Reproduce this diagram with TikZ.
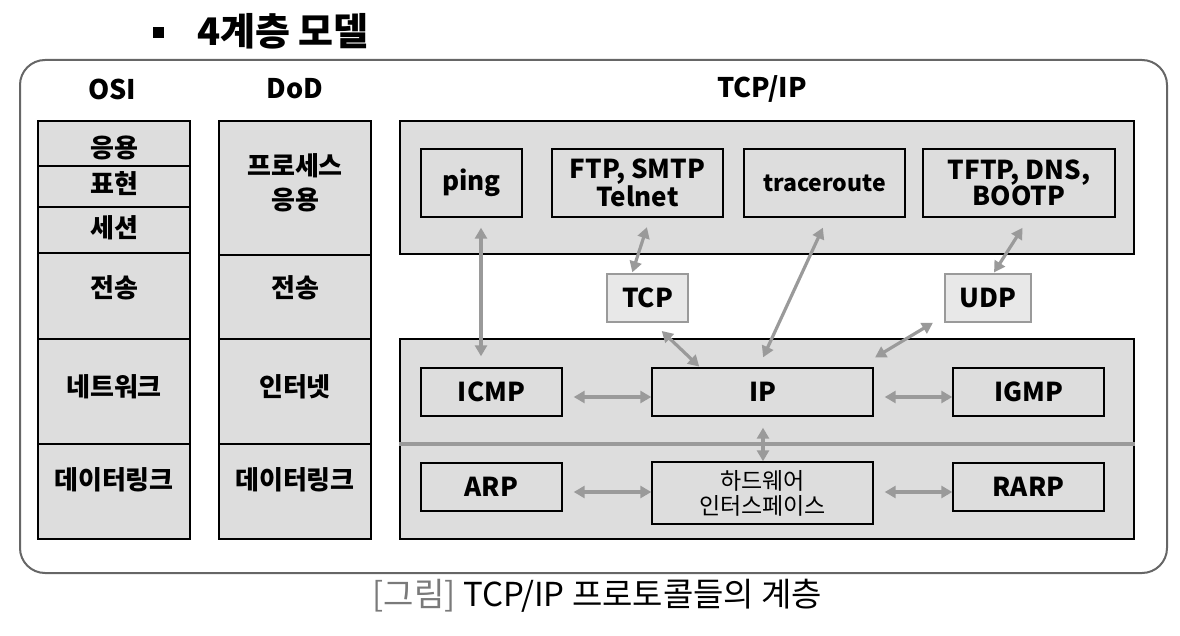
\documentclass[tikz,border=0pt]{standalone}
\usepackage{fontspec}
\setmainfont{Noto Sans CJK KR}
\usetikzlibrary{arrows.meta}
\definecolor{boxgray}{HTML}{DDDDDD}
\definecolor{lightfill}{HTML}{E8E8E8}
\definecolor{linegray}{HTML}{9A9A9A}
\definecolor{framegray}{HTML}{666666}
\definecolor{capgray}{HTML}{7A7A7A}
\begin{document}
\begin{tikzpicture}[x=1pt,y=-1pt,
      layer/.style={draw=black,fill=boxgray,line width=1.4pt},
      proto/.style={draw=black,fill=boxgray,line width=1.4pt,inner sep=0pt,
        align=center,minimum height=48pt,font=\fontsize{26}{25}\selectfont\bfseries},
      trans/.style={draw=linegray,fill=lightfill,line width=1.4pt,inner sep=0pt,
        minimum height=48pt,font=\fontsize{26}{25}\selectfont\bfseries},
      lbl/.style={align=center,font=\fontsize{26}{34}\selectfont\bfseries},
      head/.style={font=\fontsize{27}{27}\selectfont\bfseries},
      conn/.style={{Triangle[length=11pt,width=12pt]}-{Triangle[length=11pt,width=12pt]},
        draw=linegray,line width=3.2pt}]
      \useasboundingbox (0,0) rectangle (1180,636);
      % title
      \node[fill=black,minimum size=11pt,inner sep=0pt] (bullet) at (158,32.5) {};
      \node[font=\fontsize{38}{38}\selectfont\bfseries] (title) at (283,31) {4계층 모델};
      \draw[draw=framegray,line width=2pt,rounded corners=25pt] (20,60) rectangle (1167,573);
      \node[head] (hosi) at (112,89) {OSI};
      \node[head] (hdod) at (295,89) {DoD};
      \node[head] (htcp) at (762,89) {TCP/IP};
      % OSI
      \draw[layer] (38,121) rectangle (190,166);
      \draw[layer] (38,166) rectangle (190,207);
      \draw[layer] (38,207) rectangle (190,253);
      \draw[layer] (38,253) rectangle (190,339);
      \draw[layer] (38,339) rectangle (190,444);
      \draw[layer] (38,444) rectangle (190,539);
      \node[lbl] (osiA) at (114,147.5) {응용};
      \node[lbl] (osiP) at (114,184) {표현};
      \node[lbl] (osiS) at (114,228) {세션};
      \node[lbl] (osiT) at (114,288) {전송};
      \node[lbl] (osiN) at (114,387) {네트워크};
      \node[lbl] (osiD) at (114,480) {데이터링크};
      % DoD
      \draw[layer] (219,121) rectangle (371,255);
      \draw[layer] (219,255) rectangle (371,339);
      \draw[layer] (219,339) rectangle (371,444);
      \draw[layer] (219,444) rectangle (371,539);
      \node[lbl] (dodA) at (295,182.5) {프로세스\\응용};
      \node[lbl] (dodT) at (295,288) {전송};
      \node[lbl] (dodI) at (295,387) {인터넷};
      \node[lbl] (dodD) at (295,480) {데이터링크};
      % TCP/IP
      \node[layer,minimum width=734pt,minimum height=133pt] (app) at (767,187.5) {};
      \node[layer,minimum width=734pt,minimum height=200pt] (net) at (767,439) {};
      \draw[linegray,line width=3.2pt] ([yshift=-5pt]net.west) -- ([yshift=-5pt]net.east);
      \node[proto,minimum width=101pt,minimum height=68pt] (ping) at (471.5,183) {ping};
      \node[proto,minimum width=171pt,minimum height=68pt] (ftp) at (637.5,183) {FTP, SMTP\\Telnet};
      \node[proto,minimum width=161pt,minimum height=68pt,font=\fontsize{23}{25}\selectfont\bfseries] (trace) at (824.5,183) {traceroute};
      \node[proto,minimum width=192pt,minimum height=68pt] (tftp) at (1019,183) {TFTP, DNS,\\BOOTP};
      \node[trans,minimum width=81pt] (tcp) at (647.5,298) {TCP};
      \node[trans,minimum width=86pt] (udp) at (988,298) {UDP};
      \node[proto,minimum width=141pt] (icmp) at (491.5,392) {ICMP};
      \node[proto,minimum width=221pt] (ip) at (762.5,392) {IP};
      \node[proto,minimum width=151pt] (igmp) at (1028.5,392) {IGMP};
      \node[proto,minimum width=141pt] (arp) at (491.5,487) {ARP};
      \node[proto,minimum width=221pt,minimum height=62pt,font=\fontsize{23}{25}\selectfont] (hw) at (762.5,493) {하드웨어\\인터스페이스};
      \node[proto,minimum width=151pt] (rarp) at (1028.5,487) {RARP};
      \draw[conn,shorten <=10pt,shorten >=11pt] ([xshift=9.5pt]ping.south) -- ([xshift=-10.5pt]icmp.north);
      \draw[conn,shorten <=10pt,shorten >=1pt] ([xshift=12.5pt]ftp.south) -- ([xshift=-15.5pt]tcp.north);
      \draw[conn,shorten <=12pt,shorten >=1pt] ([xshift=5.5pt]tcp.south) -- ([xshift=-62.5pt]ip.north);
      \draw[conn,shorten <=11pt,shorten >=11pt] ([xshift=3pt]trace.south) -- ([xshift=-4pt]ip.north);
      \draw[conn,shorten <=12pt,shorten >=1pt] ([xshift=10pt]tftp.south) -- ([xshift=5.5pt]udp.north);
      \draw[conn,shorten >=19pt] ([xshift=-55pt]udp.south) -- ([xshift=-15pt]ip.north east);
      \draw[conn,shorten <=11pt] ([yshift=-5pt]icmp.east) -- ([yshift=-5pt]icmp.east -| ip.west);
      \draw[conn,shorten <=11pt] ([yshift=-5pt]igmp.west -| ip.east) -- ([yshift=-5pt]igmp.west);
      \draw[conn,shorten <=11pt] ([yshift=-5pt]arp.east) -- ([yshift=-5pt]arp.east -| hw.west);
      \draw[conn,shorten <=11pt] ([yshift=-5pt]rarp.west -| hw.east) -- ([yshift=-5pt]rarp.west);
      \draw[conn,shorten <=11pt] ([xshift=0.5pt]ip.south) -- ([xshift=0.5pt]hw.north);
      % caption
      \node[font=\fontsize{33}{33}\selectfont] (caption) at (597.5,596) {{\color{capgray}[그림]} TCP/IP 프로토콜들의 계층};
\end{tikzpicture}
\end{document}
